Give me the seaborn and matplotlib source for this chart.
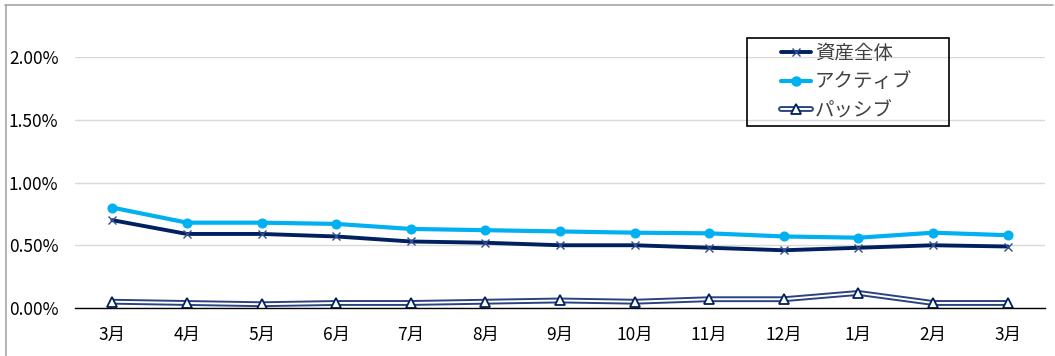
import numpy as np
import pandas as pd
import matplotlib
matplotlib.use("Agg")
import matplotlib.pyplot as plt
from matplotlib.lines import Line2D
from matplotlib.patches import Rectangle
from matplotlib.legend_handler import HandlerTuple
import seaborn as sns

# Monthly cost ratios (%)
months = ["3月", "4月", "5月", "6月", "7月", "8月", "9月",
          "10月", "11月", "12月", "1月", "2月", "3月"]
total = [0.70, 0.59, 0.59, 0.57, 0.53, 0.52, 0.50, 0.50, 0.48, 0.46, 0.48, 0.50, 0.49]
active = [0.80, 0.68, 0.68, 0.67, 0.63, 0.62, 0.61, 0.60, 0.595, 0.57, 0.56, 0.60, 0.58]
passive = [0.05, 0.04, 0.03, 0.04, 0.04, 0.05, 0.06, 0.05, 0.07, 0.07, 0.12, 0.04, 0.04]
series_names = ["資産全体", "アクティブ", "パッシブ"]
yticks = [0.0, 0.5, 1.0, 1.5, 2.0]

sns.set_style("white")
plt.rcParams["font.family"] = ["Noto Sans CJK JP", "DejaVu Sans"]

NAVY = "#002060"
CYAN = "#00B0F0"
PNAVY = "#2A4380"

df = pd.DataFrame({"pos": np.arange(len(months)),
                   "total": total, "active": active, "passive": passive})

fig = plt.figure(figsize=(10.55, 3.56), dpi=100)
ax = fig.add_axes([75 / 1055, 1 - 308 / 356, 970 / 1055, 251 / 356])

ax.set_axisbelow(True)
ax.yaxis.grid(True, color="#D9D9D9", linewidth=1.0)
ax.xaxis.grid(False)

# Passive: double line (dark outer stroke with white core)
sns.lineplot(data=df, x="pos", y="passive", ax=ax, color=PNAVY, linewidth=4.2, zorder=3)
sns.lineplot(data=df, x="pos", y="passive", ax=ax, color="white", linewidth=1.4,
             marker="^", markersize=7, markerfacecolor="white",
             markeredgecolor=NAVY, markeredgewidth=1.3, zorder=4)

sns.lineplot(data=df, x="pos", y="active", ax=ax, color=CYAN, linewidth=3.0,
             marker="o", markersize=6.5, markeredgecolor=CYAN, zorder=5)
sns.lineplot(data=df, x="pos", y="total", ax=ax, color=NAVY, linewidth=2.8,
             marker="x", markersize=6, markeredgecolor="#2F4F8F",
             markeredgewidth=1.0, zorder=6)

ax.set_xlim(-0.5, len(months) - 0.5)
ax.set_ylim(0, 2.0)
ax.set_xticks(df["pos"])
ax.set_xticklabels(months)
ax.set_yticks(yticks)
ax.set_yticklabels([f"{v:.2f}%" for v in yticks])
ax.set_xlabel("")
ax.set_ylabel("")
ax.tick_params(axis="both", length=0, labelsize=12.5, colors="#000000")
ax.tick_params(axis="x", pad=13)
ax.tick_params(axis="y", pad=12)

for side in ["top", "right", "left"]:
    ax.spines[side].set_visible(False)
ax.spines["bottom"].set_color("black")
ax.spines["bottom"].set_linewidth(1.0)
ax.spines["bottom"].set_zorder(7)

# Legend
h_total = Line2D([], [], color=NAVY, linewidth=2.8, marker="x", markersize=6,
                 markeredgecolor="#2F4F8F", markeredgewidth=1.0)
h_active = Line2D([], [], color=CYAN, linewidth=3.0, marker="o", markersize=6.5)
h_passive = (Line2D([], [], color=PNAVY, linewidth=4.2),
             Line2D([], [], color="white", linewidth=1.4, marker="^", markersize=7,
                    markerfacecolor="white", markeredgecolor=NAVY, markeredgewidth=1.3))
fig.legend([h_total, h_active, h_passive], series_names,
           handler_map={tuple: HandlerTuple(ndivide=1)},
           loc="center left", bbox_to_anchor=(781 / 1055, 1 - 82 / 356),
           bbox_transform=fig.transFigure, frameon=False, fontsize=14,
           borderpad=0, borderaxespad=0, handlelength=1.55, handletextpad=0.2,
           labelspacing=0.4, labelcolor="#404040")
fig.add_artist(Rectangle((747 / 1055, 1 - 126 / 356), 202 / 1055, 88 / 356,
                         transform=fig.transFigure, fill=False,
                         edgecolor="black", linewidth=1.2))

# Chart area border (top and left edges)
fig.add_artist(Line2D([5 / 1055, 1053 / 1055], [1 - 5 / 356, 1 - 5 / 356],
                      transform=fig.transFigure, color="#A6A6A6", linewidth=1.2))
fig.add_artist(Line2D([5.5 / 1055, 5.5 / 1055], [0, 1 - 5 / 356],
                      transform=fig.transFigure, color="#A6A6A6", linewidth=1.2))

fig.savefig("out.png", dpi=100, facecolor="white")
